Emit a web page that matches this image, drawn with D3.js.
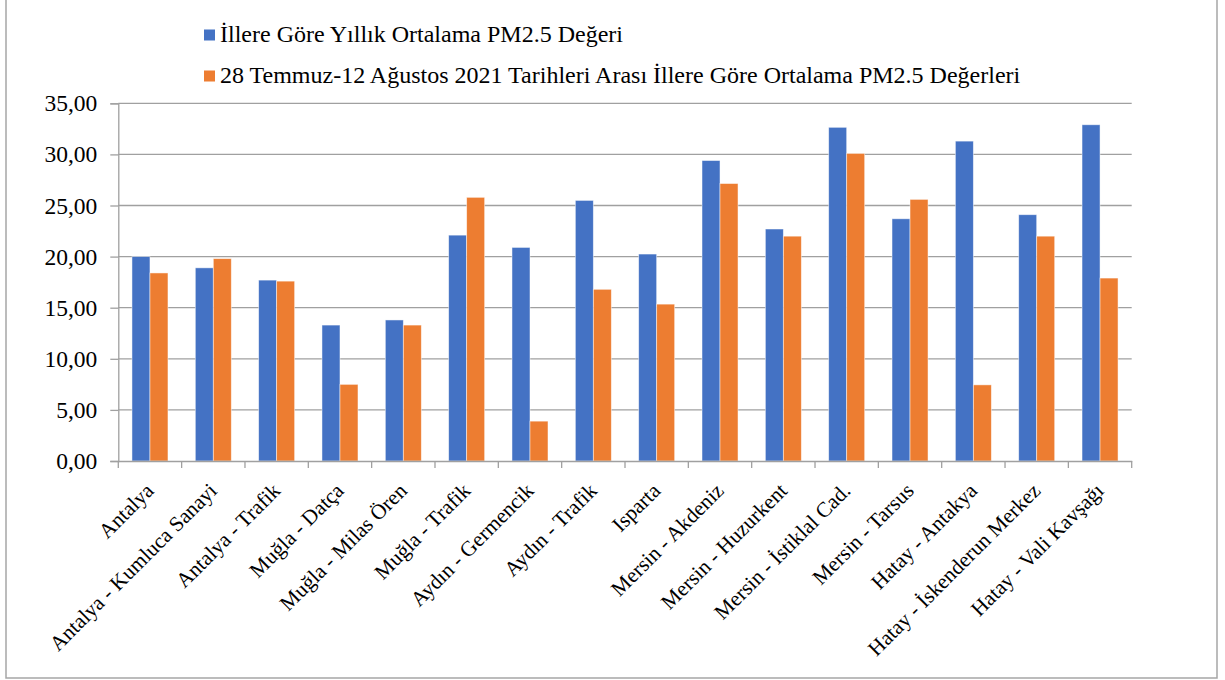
<!DOCTYPE html>
<html><head><meta charset="utf-8">
<script src="https://cdn.jsdelivr.net/npm/d3@7"></script>
<style>
html,body{margin:0;padding:0;background:#fff;}
svg{display:block;}
</style></head>
<body>
<svg id="chart" width="1225" height="680"></svg>
<script>
const categories = ["Antalya","Antalya - Kumluca Sanayi","Antalya - Trafik","Muğla - Datça","Muğla - Milas Ören","Muğla - Trafik","Aydın - Germencik","Aydın - Trafik","Isparta","Mersin - Akdeniz","Mersin - Huzurkent","Mersin - İstiklal Cad.","Mersin - Tarsus","Hatay - Antakya","Hatay - İskenderun Merkez","Hatay - Vali Kavşağı"];
const seriesNames = ["İllere Göre Yıllık Ortalama PM2.5 Değeri","28 Temmuz-12 Ağustos 2021 Tarihleri Arası İllere Göre Ortalama PM2.5 Değerleri"];
const annualValues = [20.0, 18.9, 17.7, 13.3, 13.8, 22.1, 20.9, 25.5, 20.25, 29.4, 22.7, 32.65, 23.7, 31.3, 24.1, 32.9];
const periodValues = [18.4, 19.8, 17.6, 7.5, 13.3, 25.8, 3.9, 16.8, 15.35, 27.15, 22.0, 30.1, 25.6, 7.45, 22.0, 17.9];
const yTicks = [0, 5, 10, 15, 20, 25, 30, 35];
const colors = ["#4472C4", "#ED7D31"];

(function () {
const svg = d3.select("#chart");
const SERIF = "'Liberation Serif', 'Times New Roman', serif";
const FS_X = 21.3, FS_Y = 23.5, FS_L = 24;
const pLeft = 118.3, pRight = 1131.7, pTop = 103.3, pBottom = 461;

// outer border
svg.append("rect").attr("x", 6).attr("y", -2).attr("width", 1211).attr("height", 680)
  .attr("fill", "none").attr("stroke", "#a6a6a6").attr("stroke-width", 1.5);

const x0 = d3.scaleBand().domain(categories).range([pLeft, pRight]).padding(0);
const x1 = d3.scaleBand().domain([0, 1]).range([0, x0.bandwidth()]).paddingInner(0).paddingOuter(0.759);
const y = d3.scaleLinear().domain([0, 35]).range([pBottom, pTop]);

// gridlines
svg.append("g").selectAll("line").data(yTicks.filter(d => d > 0)).join("line")
  .attr("x1", pLeft).attr("x2", pRight)
  .attr("y1", d => y(d)).attr("y2", d => y(d))
  .attr("stroke", "#a0a0a0").attr("stroke-width", 1.3);

// y axis
const fmt = d => d3.format(".2f")(d).replace(".", ",");
const yAxis = svg.append("g").attr("transform", `translate(${pLeft},0)`)
  .call(d3.axisLeft(y).tickValues(yTicks).tickFormat(fmt).tickSize(8).tickPadding(13));
yAxis.select(".domain").attr("stroke", "#a0a0a0").attr("stroke-width", 1.3);
yAxis.selectAll(".tick line").attr("stroke", "#a0a0a0").attr("stroke-width", 1.3);
yAxis.selectAll("text").style("font-size", FS_Y + "px").style("font-family", SERIF).style("fill", "#000");

// bars
const data = categories.map((c, i) => ({cat: c, vals: [annualValues[i], periodValues[i]]}));
const groups = svg.append("g").selectAll("g").data(data).join("g")
  .attr("transform", d => `translate(${x0(d.cat)},0)`);
groups.selectAll("rect").data(d => d.vals.map((v, k) => ({v, k}))).join("rect")
  .attr("x", d => x1(d.k)).attr("width", x1.bandwidth())
  .attr("y", d => y(d.v)).attr("height", d => y(0) - y(d.v))
  .attr("fill", d => colors[d.k])
  .attr("stroke", "#ffffff").attr("stroke-opacity", 0.6).attr("stroke-width", 0.8);

// x axis
const xAxis = svg.append("g").attr("transform", `translate(0,${pBottom})`)
  .call(d3.axisBottom(x0).tickSize(0).tickFormat(""));
xAxis.select(".domain").attr("stroke", "#a0a0a0").attr("stroke-width", 1.3);
xAxis.selectAll(".tick").remove();
const bounds = categories.map(c => x0(c)).concat([pRight]);
svg.append("g").selectAll("line").data(bounds).join("line")
  .attr("x1", d => d).attr("x2", d => d).attr("y1", pBottom).attr("y2", pBottom + 7)
  .attr("stroke", "#a0a0a0").attr("stroke-width", 1.3);

// x labels
svg.append("g").selectAll("text").data(categories).join("text")
  .attr("transform", d => `translate(${x0(d) + x0.bandwidth() / 2 + 5},${pBottom + 31}) rotate(-45)`)
  .attr("text-anchor", "end")
  .style("font-size", FS_X + "px").style("font-family", SERIF).style("fill", "#000")
  .text(d => d);

// legend
const legend = svg.append("g");
const ly = [41.5, 82.5];
seriesNames.forEach((name, i) => {
  legend.append("rect").attr("x", 204).attr("y", ly[i] - 12).attr("width", 11).attr("height", 11).attr("fill", colors[i]);
  legend.append("text").attr("x", 220).attr("y", ly[i])
    .style("font-size", FS_L + "px").style("font-family", SERIF).style("fill", "#000").text(name);
});
})();
</script>
</body></html>
